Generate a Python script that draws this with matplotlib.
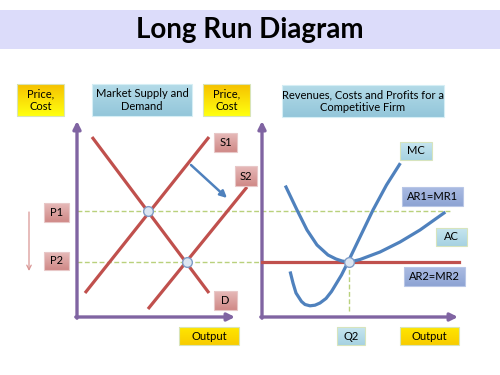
import matplotlib.pyplot as plt
import numpy as np
from matplotlib.patches import Rectangle

plt.rcParams['font.family'] = ['Lato', 'DejaVu Sans']

# market diagram (picture coordinates, y grows downwards)
demand_x = [92, 209]
demand_y = [137, 293]
s1_x = [85, 209]
s1_y = [293, 137]
s2_x = [148, 247]
s2_y = [309, 187]
eq_x = [148, 187]
eq_y = [211, 262]
price_levels = [211, 262]
price_names = ['P1', 'P2']

# firm diagram
ac_x = [286, 297, 307, 317, 328, 336, 342, 348, 354, 360, 380, 400, 420, 444]
ac_y = [187, 210, 230, 245, 255, 259, 261, 262, 261, 259.5, 252, 242, 230, 213]
mc_x = [290.5, 293, 296, 301.5, 305, 310, 315, 320, 326, 331.5, 341.5, 348, 360, 373, 386.5, 399.5]
mc_y = [273, 283, 293, 301.5, 304.5, 305.8, 305.2, 303, 298.5, 291.5, 275, 262, 237, 210, 185, 164.5]
q2 = 349
p2_firm = 262

purple = '#8064a2'
red = '#c0504d'
blue = '#4f81bd'
green_dash = '#b9d17c'

fig = plt.figure(figsize=(5, 3.75), dpi=100)
ax = fig.add_axes([0, 0, 1, 1])
ax.set_xlim(0, 500)
ax.set_ylim(375, 0)
ax.axis('off')


def grad_box(x0, y0, x1, y1, top, bottom, edge, text, size=8):
    c0 = np.array(plt.matplotlib.colors.to_rgb(top))
    c1 = np.array(plt.matplotlib.colors.to_rgb(bottom))
    t = np.linspace(0, 1, 32)[:, None, None]
    img = c0 * (1 - t) + c1 * t
    ax.imshow(img, extent=(x0, x1, y1, y0), aspect='auto', zorder=4)
    ax.add_patch(Rectangle((x0, y0), x1 - x0, y1 - y0, fill=False,
                           ec=edge, lw=0.8, zorder=5))
    ax.text((x0 + x1) / 2, (y0 + y1) / 2, text, ha='center', va='center',
            fontsize=size, linespacing=1.15, zorder=6)


# title band
ax.add_patch(Rectangle((0, 10), 500, 39, color='#dcdcfa', lw=0, zorder=1))
ax.text(250, 30, 'Long Run Diagram', ha='center', va='center',
        fontsize=20, fontweight='bold', zorder=2)

# axes arrows
arrow = dict(arrowstyle='-|>', lw=2.4, color=purple, mutation_scale=11,
             shrinkA=0, shrinkB=0)
for ox, tipx in [(77, 235), (262, 458)]:
    ax.annotate('', xy=(ox, 121), xytext=(ox, 318.2), arrowprops=arrow, zorder=3)
    ax.annotate('', xy=(tipx, 317), xytext=(ox - 1.2, 317), arrowprops=arrow, zorder=3)

# dashed price lines
dash = dict(color=green_dash, lw=1.0, ls=(0, (3.5, 1.8)), zorder=2)
ax.plot([77, 452], [price_levels[0]] * 2, **dash)
ax.plot([77, 262], [price_levels[1]] * 2, **dash)
ax.plot([q2, q2], [p2_firm, 313], **dash)

# market curves
for xs, ys in [(demand_x, demand_y), (s1_x, s1_y), (s2_x, s2_y)]:
    ax.plot(xs, ys, color=red, lw=2.3, solid_capstyle='butt', zorder=3)
ax.plot(eq_x, eq_y, 'o', ms=7, mfc='#dce6f2', mec='#7f9cc6', mew=1, zorder=6)

# firm curves
ax.plot([262, 459], [p2_firm, p2_firm], color=red, lw=2.3, zorder=3)
ax.plot(ac_x, ac_y, color=blue, lw=2.3, zorder=4)
ax.plot(mc_x, mc_y, color=blue, lw=2.3, zorder=4)
ax.plot([q2], [p2_firm], 'o', ms=7, mfc='#dce6f2', mec='#7f9cc6', mew=1, zorder=6)

# shift arrows
ax.annotate('', xy=(227, 198), xytext=(191, 165),
            arrowprops=dict(arrowstyle='-|>', lw=1.8, color=blue,
                            mutation_scale=10, shrinkA=0, shrinkB=0))
ax.annotate('', xy=(29, 271), xytext=(29, 212),
            arrowprops=dict(arrowstyle='->', lw=0.9, color='#d99694',
                            mutation_scale=8, shrinkA=0, shrinkB=0))

# labels
yel_top, yel_bot, yel_edge = '#f6c200', '#ffff10', '#d8e4b8'
grad_box(17, 84, 64, 116, yel_top, yel_bot, yel_edge, 'Price,\nCost')
grad_box(203, 84, 250, 116, yel_top, yel_bot, yel_edge, 'Price,\nCost')
grad_box(179, 327, 239, 345, '#ffe600', '#f8cc00', yel_edge, 'Output')
grad_box(400, 327, 459, 345, '#ffe600', '#f8cc00', yel_edge, 'Output')

grad_box(92, 84, 192, 116, '#b4dbe8', '#93c6da', '#d6eef5', 'Market Supply and\nDemand')
grad_box(282, 85, 444, 117, '#b4dbe8', '#93c6da', '#d6eef5',
         'Revenues, Costs and Profits for a\nCompetitive Firm')

pink_top, pink_bot, pink_edge = '#e6b9b8', '#d08a88', '#e8c8c8'
grad_box(44, 203, 69, 222, pink_top, pink_bot, pink_edge, price_names[0])
grad_box(44, 252, 69, 270, pink_top, pink_bot, pink_edge, price_names[1])
grad_box(214, 133, 237, 152, pink_top, pink_bot, pink_edge, 'S1')
grad_box(235, 166, 257, 186, pink_top, pink_bot, pink_edge, 'S2')
grad_box(214, 291, 237, 310, pink_top, pink_bot, pink_edge, 'D')

lb_top, lb_bot, lb_edge = '#c6e5ef', '#a6d2e2', '#d7e4bd'
grad_box(400, 142, 432, 160, lb_top, lb_bot, lb_edge, 'MC')
grad_box(436, 228, 467, 246, lb_top, lb_bot, lb_edge, 'AC')
grad_box(337, 327, 365, 345, lb_top, lb_bot, lb_edge, 'Q2')

ar_top, ar_bot, ar_edge = '#aabbe2', '#8ea4d4', '#b8c6e6'
grad_box(402, 187, 463, 206, ar_top, ar_bot, ar_edge, 'AR1=MR1')
grad_box(404, 267, 465, 286, ar_top, ar_bot, ar_edge, 'AR2=MR2')

fig.savefig('out.png', dpi=100)
